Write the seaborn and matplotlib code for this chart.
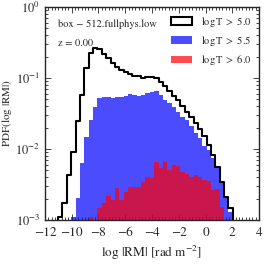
import numpy as np
import pandas as pd
import matplotlib
matplotlib.use('Agg')
import matplotlib.pyplot as plt
import seaborn as sns
from matplotlib.patches import Patch
from matplotlib.ticker import MultipleLocator, LogLocator, NullFormatter

# histogram bins in log|RM|
edges = np.linspace(-12, 4, 50)
centers = 0.5 * (edges[:-1] + edges[1:])
bin_list = [float(e) for e in edges]

# PDF per bin (first non-empty bin index given separately)
start_t50 = 3
pdf_t50 = [1.11e-3, 1.72e-3, 4.31e-3, 9.16e-3, 0.0251, 0.0577, 0.137, 0.223, 0.260, 0.252,
           0.218, 0.191, 0.163, 0.144, 0.130, 0.122, 0.114, 0.108, 0.105, 0.0984,
           0.102, 0.103, 0.0984, 0.0865, 0.0759, 0.0656, 0.0558, 0.0482, 0.0397, 0.0332,
           0.0278, 0.0229, 0.0191, 0.0152, 0.0114, 8.23e-3, 5.58e-3, 3.46e-3, 2.13e-3, 1.46e-3]

start_t55 = 6
pdf_t55 = [1.11e-3, 2.04e-3, 6.29e-3, 0.0145, 0.0256, 0.0394, 0.0518, 0.0535, 0.0545, 0.052,
           0.0545, 0.0545, 0.0558, 0.0596, 0.0567, 0.0550, 0.0577, 0.0609, 0.0641, 0.0656,
           0.0577, 0.0490, 0.0440, 0.0394, 0.0335, 0.0285, 0.0256, 0.0211, 0.0166, 0.0141,
           0.0110, 9.68e-3, 7.39e-3, 5.40e-3, 3.32e-3, 2.04e-3, 1.30e-3]

start_t60 = 10
pdf_t60 = [1.10e-3, 0.0, 1.46e-3, 1.72e-3, 2.18e-3, 1.91e-3, 2.79e-3, 1.91e-3, 2.50e-3, 2.94e-3,
           2.94e-3, 2.89e-3, 3.46e-3, 4.07e-3, 3.87e-3, 6.56e-3, 5.31e-3, 6.56e-3, 4.98e-3, 5.86e-3,
           5.76e-3, 4.74e-3, 4.37e-3, 4.03e-3, 4.30e-3, 4.03e-3, 3.66e-3, 3.54e-3, 2.65e-3, 2.73e-3,
           1.52e-3]

labels = [r'$\log\mathrm{T}\ >\ 5.0$', r'$\log\mathrm{T}\ >\ 5.5$', r'$\log\mathrm{T}\ >\ 6.0$']


def to_frame(vals, start):
    return pd.DataFrame({'logrm': centers[start:start + len(vals)], 'pdf': vals})


sns.set_style('ticks')
plt.rcParams['font.family'] = ['STIXGeneral', 'DejaVu Serif']
plt.rcParams['mathtext.fontset'] = 'stix'

fig = plt.figure(figsize=(2.66, 2.66), dpi=100)
ax = fig.add_axes([0.169, 0.173, 0.805, 0.801])

sns.histplot(data=to_frame(pdf_t55, start_t55), x='logrm', weights='pdf', bins=bin_list,
             element='step', fill=True, color='blue', alpha=0.7, linewidth=0, ax=ax)
sns.histplot(data=to_frame(pdf_t60, start_t60), x='logrm', weights='pdf', bins=bin_list,
             element='step', fill=True, color='red', alpha=0.7, linewidth=0, ax=ax)
sns.histplot(data=to_frame(pdf_t50, start_t50), x='logrm', weights='pdf', bins=bin_list,
             element='step', fill=False, color='black', linewidth=1.5, ax=ax)

ax.set_yscale('log')
ax.set_xlim(-12, 4)
ax.set_ylim(1e-3, 1)
ax.xaxis.set_major_locator(MultipleLocator(2))
ax.xaxis.set_minor_locator(MultipleLocator(0.25))
ax.yaxis.set_major_locator(LogLocator(base=10))
ax.yaxis.set_minor_locator(LogLocator(base=10, subs=np.arange(2, 10)))
ax.yaxis.set_minor_formatter(NullFormatter())
ax.tick_params(which='both', direction='in', top=True, right=True, labelsize=9.5, width=0.6)
ax.tick_params(axis='y', which='major', labelsize=9)
ax.tick_params(which='major', length=4)
ax.tick_params(which='minor', length=2)
ax.tick_params(axis='x', which='major', pad=5)
for s in ax.spines.values():
    s.set_linewidth(1.0)

ax.set_xlabel(r'$\log\,|\mathrm{RM}|\ [\mathrm{rad}\ \mathrm{m}^{-2}]$', fontsize=9.5, labelpad=4)
ax.set_ylabel(r'$\mathrm{PDF}(\log\,|\mathrm{RM}|)$', fontsize=8)
ax.yaxis.set_label_coords(-0.145, 0.5)

ax.text(0.06, 0.92, 'box \u2212 512.fullphys.low', transform=ax.transAxes,
        fontsize=7.5, va='center', ha='left')
ax.text(0.06, 0.83, 'z = 0.00', transform=ax.transAxes,
        fontsize=7.5, va='center', ha='left')

handles = [Patch(facecolor='white', edgecolor='black', linewidth=1.5),
           Patch(facecolor='blue', alpha=0.7, linewidth=0),
           Patch(facecolor='red', alpha=0.7, linewidth=0)]
ax.legend(handles, labels, loc='upper right', frameon=False, fontsize=7.5,
          handlelength=2.0, handleheight=0.75, labelspacing=0.5, handletextpad=0.8,
          borderaxespad=0.35)

fig.savefig('out.png', dpi=100)
